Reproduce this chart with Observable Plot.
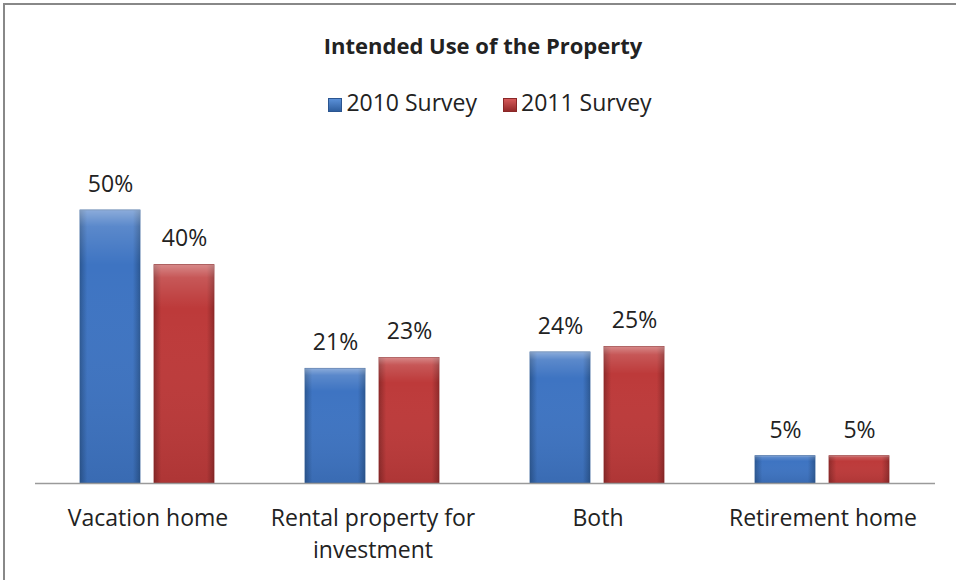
<!DOCTYPE html>
<html>
<head>
<meta charset="utf-8">
<script src="https://cdn.jsdelivr.net/npm/d3@7"></script>
<script src="https://cdn.jsdelivr.net/npm/@observablehq/plot@0.6"></script>
<style>
  html, body { margin: 0; padding: 0; background: #fff; }
  #wrap { position: relative; width: 956px; height: 580px; overflow: hidden; background: #fff;
          font-family: "Open Sans", "Noto Sans", sans-serif; color: #222; }
  #frame { position: absolute; left: 3px; top: 3px; width: 1000px; height: 1000px;
           border-left: 2px solid #888; border-top: 2px solid #888; box-sizing: border-box; }
  #title { position: absolute; left: 0; width: 966px; top: 30px; text-align: center;
           font-weight: bold; font-size: 22px; line-height: 30px; }
  #legend { position: absolute; left: 0; width: 980px; top: 86px; text-align: center;
            font-size: 23px; line-height: 32px; white-space: nowrap; }
  #legend .item { display: inline-block; margin: 0 13px; }
  #legend .sw { display: inline-block; width: 14px; height: 14px; margin-right: 4px; vertical-align: -1px; }
  #chart { position: absolute; left: 0; top: 130px; }
</style>
</head>
<body>
<div id="wrap">
  <div id="frame"></div>
  <div id="title">Intended Use of the Property</div>
  <div id="legend"></div>
  <div id="chart"></div>
</div>
<script>
const categories = ["Vacation home", "Rental property for\ninvestment", "Both", "Retirement home"];
const series = ["2010 Survey", "2011 Survey"];
const values2010 = [50, 21, 24, 5];
const values2011 = [40, 23, 25, 5];

const data = categories.flatMap((c, i) => [
  {cat: c, series: series[0], value: values2010[i]},
  {cat: c, series: series[1], value: values2011[i]}
]);

// legend
const legend = document.getElementById("legend");
series.forEach((s, i) => {
  const item = document.createElement("span");
  item.className = "item";
  const sw = document.createElement("span");
  sw.className = "sw";
  sw.style.background = `linear-gradient(${i === 0 ? "#5a90d8, #2f5f9f" : "#d65a5a, #942a2a"})`;
  sw.style.border = `1px solid ${i === 0 ? "#2b5590" : "#8a2727"}`;
  sw.style.boxSizing = "border-box";
  item.appendChild(sw);
  item.appendChild(document.createTextNode(s));
  legend.appendChild(item);
});

const chart = Plot.plot({
  width: 956,
  height: 450,
  marginLeft: 33,
  marginRight: 20,
  marginTop: 80,
  marginBottom: 97,
  style: {fontFamily: "'Open Sans', 'Noto Sans', sans-serif", color: "#222", background: "transparent"},
  fx: {domain: categories, padding: 0, label: null, axis: null},
  x: {domain: series, paddingInner: 0.187, paddingOuter: 0.6, axis: null},
  y: {domain: [0, 50], axis: null},
  marks: [
    Plot.barY(data.filter(d => d.series === series[0]), {fx: "cat", x: "series", y: "value", fill: "url(#gBlue)", stroke: "#2e5a96", strokeWidth: 0.8}),
    Plot.barY(data.filter(d => d.series === series[1]), {fx: "cat", x: "series", y: "value", fill: "url(#gRed)", stroke: "#8e2929", strokeWidth: 0.8}),
    Plot.barY(data, {fx: "cat", x: "series", y: "value", fill: "url(#gShade)"}),
    Plot.ruleY([0], {stroke: "#9a9a9a", strokeWidth: 1.5}),
    Plot.text(data, {fx: "cat", x: "series", y: "value", text: d => d.value + "%", dy: -26, fontSize: 23, fill: "#222"}),
    Plot.axisFx({anchor: "bottom", tickSize: 0, tickPadding: 20, fontSize: 23, lineHeight: 1.39, label: null, textAnchor: "middle"})
  ]
});

const svg = d3.select(chart);
const defs = svg.insert("defs", ":first-child");
function hGrad(id, edge, mid) {
  const g = defs.append("linearGradient").attr("id", id).attr("x1", 0).attr("x2", 1).attr("y1", 0).attr("y2", 0);
  g.append("stop").attr("offset", 0).attr("stop-color", edge);
  g.append("stop").attr("offset", 0.12).attr("stop-color", mid);
  g.append("stop").attr("offset", 0.88).attr("stop-color", mid);
  g.append("stop").attr("offset", 1).attr("stop-color", edge);
}
hGrad("gBlue", "#2c5894", "#3e74c2");
hGrad("gRed", "#8f2a2a", "#bd3a3a");
const sh = defs.append("linearGradient").attr("id", "gShade").attr("x1", 0).attr("x2", 0).attr("y1", 0).attr("y2", 1);
sh.append("stop").attr("offset", 0).attr("stop-color", "#fff").attr("stop-opacity", 0.4);
sh.append("stop").attr("offset", 0.06).attr("stop-color", "#fff").attr("stop-opacity", 0.15);
sh.append("stop").attr("offset", 0.2).attr("stop-color", "#fff").attr("stop-opacity", 0);
sh.append("stop").attr("offset", 1).attr("stop-color", "#000").attr("stop-opacity", 0.08);

document.getElementById("chart").appendChild(chart);
</script>
</body>
</html>
